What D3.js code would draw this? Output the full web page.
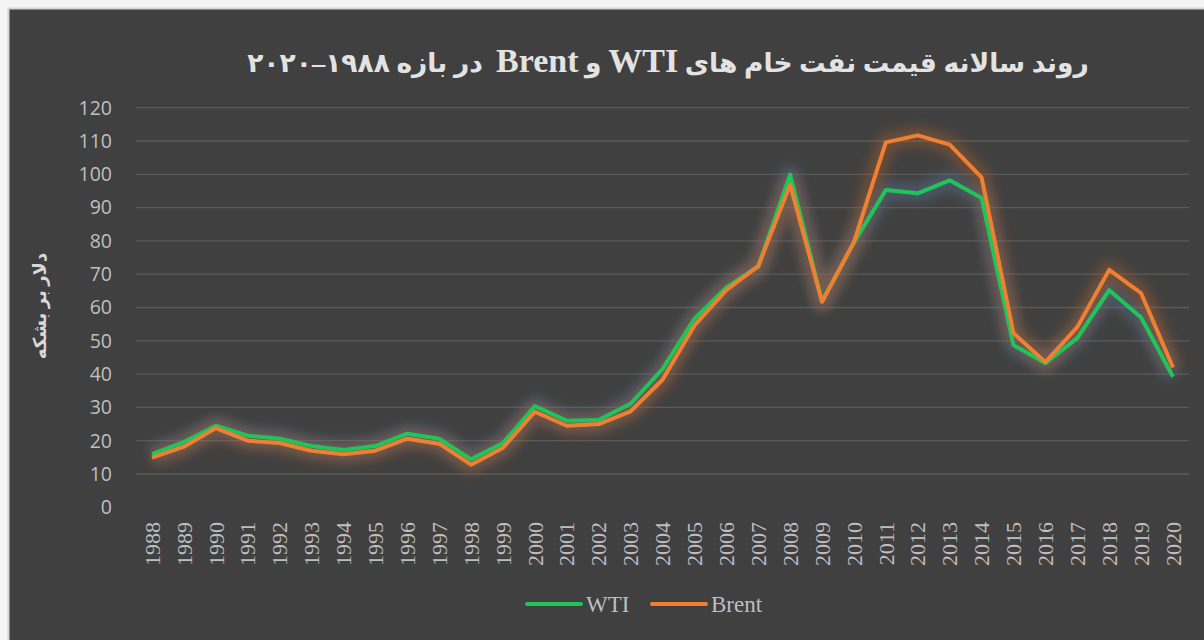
<!DOCTYPE html>
<html>
<head>
<meta charset="utf-8">
<script src="https://cdn.jsdelivr.net/npm/d3@7"></script>
<style>
  body { margin: 0; background: #f4f4f4; }
  svg { display: block; }
</style>
</head>
<body>
<svg id="chart" width="1204" height="640"></svg>
<script>
const years = d3.range(1988, 2021)
const wti = [16.0, 19.6, 24.5, 21.5, 20.6, 18.4, 17.2, 18.4, 22.1, 20.6, 14.4, 19.3, 30.4, 26.0, 26.2, 31.1, 41.5, 56.6, 66.0, 72.3, 99.9, 61.9, 79.5, 95.3, 94.3, 98.2, 92.9, 48.7, 43.3, 50.8, 65.2, 57.0, 39.2]
const brent = [14.9, 18.2, 23.8, 20.0, 19.3, 17.0, 15.9, 17.0, 20.6, 19.1, 12.8, 17.9, 28.7, 24.5, 25.0, 28.8, 38.3, 54.6, 65.2, 72.4, 96.9, 61.7, 79.6, 109.6, 111.7, 108.9, 99.1, 52.3, 43.6, 54.1, 71.3, 64.3, 42.0]
const yTicks = d3.range(0, 121, 10)

// title pieces in logical (right-to-left) order; latin parts are set larger
const titleParts = [
    { t: 'روند سالانه قیمت نفت خام های ', latin: false },
    { t: 'WTI', latin: true },
    { t: ' و ', latin: false },
    { t: 'Brent', latin: true },
    { t: '  در بازه ۱۹۸۸–۲۰۲۰', latin: false }
]
const yTitle = 'دلار بر بشکه'

const svg = d3.select('#chart')

// chart area frame
svg.append('rect')
    .attr('x', 8.5).attr('y', 8.5)
    .attr('width', 1204).attr('height', 640)
    .attr('fill', '#404040')
    .attr('stroke', '#d4d4d4')
    .attr('stroke-width', 2)

const x = d3.scalePoint().domain(years).range([152, 1173])
const y = d3.scaleLinear().domain([0, 120]).range([507.3, 107.7])

// gridlines
svg.append('g')
    .selectAll('line')
    .data(yTicks.filter(d => d > 0))
    .join('line')
    .attr('x1', 136).attr('x2', 1189)
    .attr('y1', d => y(d)).attr('y2', d => y(d))
    .attr('stroke', '#5a5a5a')
    .attr('stroke-width', 1.3)

// y tick labels
svg.append('g')
    .selectAll('text')
    .data(yTicks)
    .join('text')
    .attr('x', 112)
    .attr('y', d => y(d))
    .attr('dy', '0.35em')
    .attr('text-anchor', 'end')
    .attr('fill', '#bfbfbf')
    .style('font', '19.5px "Open Sans", sans-serif')
    .text(d => d)

// x tick labels
svg.append('g')
    .selectAll('text')
    .data(years)
    .join('text')
    .attr('transform', d => `translate(${x(d)},522) rotate(-90)`)
    .attr('dy', '0.35em')
    .attr('text-anchor', 'end')
    .attr('fill', '#bfbfbf')
    .style('font', '22px "Liberation Serif", serif')
    .text(d => d)

// glow filter
const defs = svg.append('defs')
defs.append('filter')
    .attr('id', 'glow')
    .attr('x', '-10%').attr('y', '-20%')
    .attr('width', '120%').attr('height', '140%')
    .append('feGaussianBlur')
    .attr('stdDeviation', 6)

const line = d3.line()
    .x((d, i) => x(years[i]))
    .y(d => y(d))

const series = [
    { name: 'WTI', values: wti, color: '#1fc55a', glow: '#5f7fa8' },
    { name: 'Brent', values: brent, color: '#f07f31', glow: '#b8642a' }
]

// glows first
series.forEach(s => {
    svg.append('path')
        .attr('d', line(s.values))
        .attr('fill', 'none')
        .attr('stroke', s.glow)
        .attr('stroke-width', 18)
        .attr('stroke-linejoin', 'round')
        .attr('opacity', 0.38)
        .attr('filter', 'url(#glow)')
})

series.forEach(s => {
    svg.append('path')
        .attr('d', line(s.values))
        .attr('fill', 'none')
        .attr('stroke', s.color)
        .attr('stroke-width', 4)
        .attr('stroke-linejoin', 'round')
})

// title
const title = svg.append('text')
    .attr('x', 668).attr('y', 72)
    .attr('text-anchor', 'middle')
    .attr('direction', 'rtl')
    .attr('fill', '#e3e3e3')
    .style('font-weight', 'bold')
    .style('white-space', 'pre')
title.selectAll('tspan')
    .data(titleParts)
    .join('tspan')
    .style('font-family', '"Liberation Serif", "DejaVu Sans", serif')
    .style('font-size', d => d.latin ? '34px' : '26.5px')
    .text(d => d.t)

// y axis title
svg.append('text')
    .attr('transform', 'translate(40,306) rotate(-90)')
    .attr('dy', '0.35em')
    .attr('text-anchor', 'middle')
    .attr('direction', 'rtl')
    .attr('fill', '#d9d9d9')
    .style('font', 'bold 18px "Liberation Serif", "DejaVu Sans", serif')
    .text(yTitle)

// legend
const legend = svg.append('g')
const legendX = [527, 652]
series.forEach((s, i) => {
    legend.append('line')
        .attr('x1', legendX[i]).attr('x2', legendX[i] + 54)
        .attr('y1', 604).attr('y2', 604)
        .attr('stroke', s.color)
        .attr('stroke-width', 4)
        .attr('stroke-linecap', 'round')
    legend.append('text')
        .attr('x', legendX[i] + 59).attr('y', 604)
        .attr('dy', '0.35em')
        .attr('fill', '#bfbfbf')
        .style('font', '23px "Liberation Serif", serif')
        .text(s.name)
})
</script>
</body>
</html>
